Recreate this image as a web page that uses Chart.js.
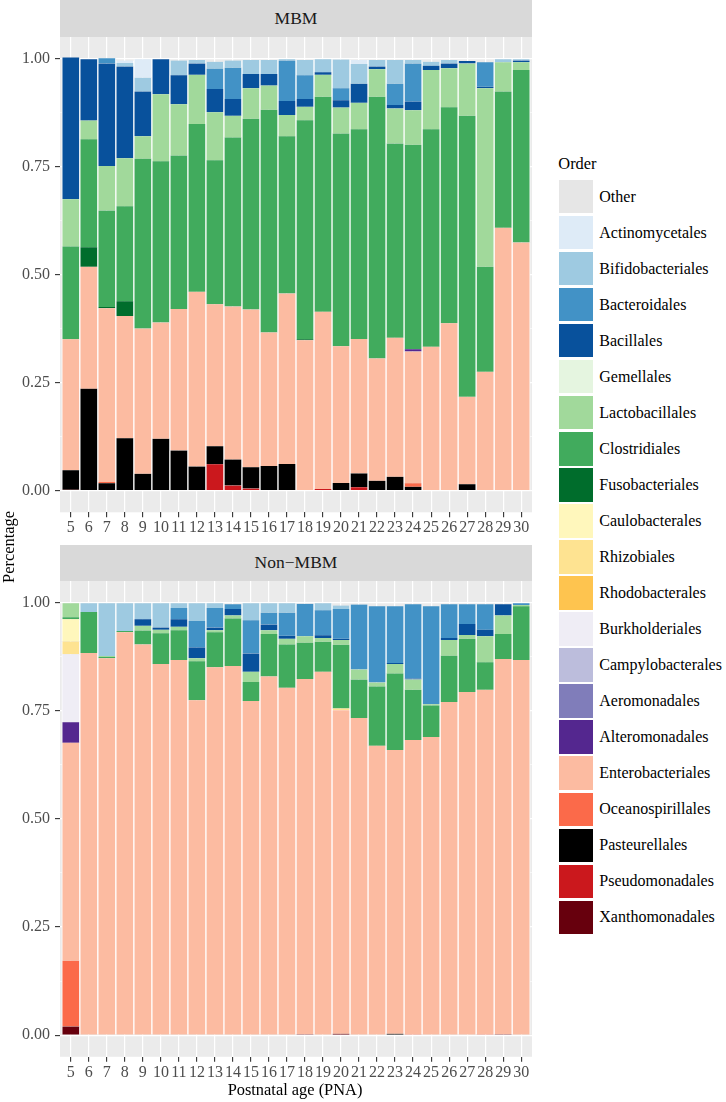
<!DOCTYPE html>
<html><head><meta charset="utf-8">
<script src="https://cdn.jsdelivr.net/npm/chart.js@4.4.1/dist/chart.umd.min.js"></script>
<style>
html,body{margin:0;padding:0;background:#fff;}
body{width:726px;height:1102px;position:relative;overflow:hidden;font-family:'Liberation Serif','Times New Roman',serif;color:#000;}
canvas{position:absolute;left:0;}
.strip{position:absolute;left:60px;width:472px;background:#D9D9D9;color:#1A1A1A;font-size:17.5px;display:flex;align-items:center;justify-content:center;}
.key{position:absolute;left:559.3px;width:33.4px;height:33.3px;}
.lab{position:absolute;left:599.3px;height:33.3px;display:flex;align-items:center;font-size:16px;white-space:nowrap;}
.ttl{position:absolute;font-size:16.4px;line-height:20px;white-space:nowrap;}
</style></head><body>
<canvas id="c1" style="top:0" width="540" height="540"></canvas>
<canvas id="c2" style="top:540px" width="540" height="562"></canvas>
<div class="strip" style="top:0;height:36.7px">MBM</div>
<div class="strip" style="top:545px;height:35.8px">Non−MBM</div>
<div class="ttl" style="left:-91.5px;top:536.7px;width:200px;text-align:center;transform:rotate(-90deg)">Percentage</div>
<div class="ttl" style="left:95px;top:1080px;width:400px;text-align:center">Postnatal age (PNA)</div>
<div class="ttl" style="left:558.3px;top:154px">Order</div>
<div id="legend"></div>
<script>
// ---------- categories / legend ----------
const categories = [5,6,7,8,9,10,11,12,13,14,15,16,17,18,19,20,21,22,23,24,25,26,27,28,29,30];
const orders = ['Other','Actinomycetales','Bifidobacteriales','Bacteroidales','Bacillales','Gemellales',
  'Lactobacillales','Clostridiales','Fusobacteriales','Caulobacterales','Rhizobiales','Rhodobacterales',
  'Burkholderiales','Campylobacterales','Aeromonadales','Alteromonadales','Enterobacteriales',
  'Oceanospirillales','Pasteurellales','Pseudomonadales','Xanthomonadales'];
const orderColors = ['#E6E6E6','#DEEBF7','#9ECAE1','#4292C6','#08519C','#E5F5E0',
  '#A1D99B','#41AB5D','#006D2C','#FFF7BC','#FEE391','#FEC44F',
  '#EFEDF5','#BCBDDC','#807DBA','#54278F','#FCBBA1',
  '#FB6A4A','#000000','#CB181D','#67000D'];
const panelTitles = ['MBM','Non−MBM'];
const yTickLabels = ['0.00','0.25','0.50','0.75','1.00'];

// ---------- MBM panel ----------
const mbmPseudomonadales = [0.002,0,0,0,0,0,0,0,0.061,0.012,0.005,0,0,0,0.004,0,0.008,0,0,0,0,0,0,0,0,0];
const mbmPasteurellales  = [0.045,0.236,0.017,0.121,0.039,0.120,0.093,0.056,0.042,0.060,0.049,0.057,0.062,0,0,0.018,0.032,0.023,0.032,0.009,0,0,0.015,0,0,0];
const mbmOceanospirillales = [0,0,0.003,0,0,0,0,0,0,0,0,0,0,0,0,0,0,0,0,0.008,0,0,0,0,0,0];
const mbmEnterobacteriales = [0.303,0.282,0.402,0.283,0.336,0.269,0.327,0.404,0.328,0.354,0.365,0.309,0.394,0.348,0.410,0.316,0.311,0.283,0.322,0.305,0.333,0.387,0.202,0.275,0.608,0.574];
const mbmAlteromonadales = [0,0,0,0,0,0,0,0,0,0,0,0,0,0,0,0,0,0,0,0.005,0,0,0,0,0,0];
const mbmFusobacteriales = [0,0.045,0.003,0.034,0,0,0,0,0,0,0,0,0,0.002,0,0,0,0,0,0,0,0,0,0,0,0];
const mbmClostridiales = [0.215,0.250,0.223,0.220,0.393,0.373,0.355,0.388,0.333,0.391,0.441,0.515,0.364,0.507,0.497,0.492,0.485,0.605,0.449,0.473,0.503,0.500,0.650,0.243,0.315,0.399];
const mbmLactobacillales = [0.109,0.043,0.103,0.111,0.052,0.155,0.119,0.114,0.111,0.050,0.071,0.056,0.049,0.031,0.051,0.060,0.061,0.064,0.081,0.080,0.137,0.090,0.121,0.413,0.068,0.018];
const mbmBacillales = [0.328,0.142,0.237,0.212,0.103,0.081,0.067,0.026,0.054,0.039,0.033,0.027,0.032,0.018,0.006,0.017,0.044,0.006,0.008,0.020,0.010,0.011,0.006,0.003,0,0.004];
const mbmBacteroidales = [0,0,0.012,0,0,0,0,0,0.047,0.072,0,0,0.094,0.055,0,0.028,0,0,0.049,0.088,0,0,0,0.057,0,0];
const mbmBifidobacteriales = [0,0,0,0.008,0.032,0,0.034,0.008,0.016,0.017,0.032,0.032,0.003,0.035,0.030,0.066,0.046,0.015,0.055,0.008,0.009,0.008,0,0,0.007,0.003];
const mbmActinomycetales = [0,0,0,0.006,0.043,0,0,0,0,0,0,0,0,0,0,0,0.009,0,0,0,0,0,0,0,0,0];

// ---------- Non-MBM panel ----------
const nonXanthomonadales = [0.020,0,0,0,0,0,0,0,0,0,0,0,0,0.002,0,0.003,0,0,0,0,0,0,0,0,0.002,0];
const nonPasteurellales = [0,0,0,0,0,0,0,0,0,0,0,0,0,0,0,0,0,0,0.003,0,0,0,0,0,0,0];
const nonOceanospirillales = [0.152,0,0,0,0,0,0,0,0,0,0,0,0,0,0,0,0,0,0,0.002,0,0,0,0.002,0,0];
const nonEnterobacteriales = [0.504,0.883,0.871,0.931,0.903,0.858,0.867,0.774,0.850,0.853,0.772,0.829,0.803,0.821,0.840,0.748,0.733,0.669,0.656,0.680,0.689,0.770,0.793,0.796,0.867,0.867];
const nonAlteromonadales = [0.047,0,0,0,0,0,0,0,0,0,0,0,0,0,0,0,0,0,0,0,0,0,0,0,0,0];
const nonBurkholderiales = [0.157,0,0,0,0,0,0,0,0,0,0,0,0,0,0,0,0,0,0,0,0,0,0,0,0,0];
const nonRhizobiales = [0.030,0,0,0,0,0,0,0,0,0,0,0,0,0,0,0.004,0,0,0,0,0,0,0,0,0,0];
const nonCaulobacterales = [0.051,0,0,0,0,0,0,0,0,0,0,0,0,0,0,0,0,0,0,0,0,0,0,0,0,0];
const nonClostridiales = [0.005,0.095,0.003,0.003,0.032,0.071,0.069,0.090,0.081,0.110,0.044,0.098,0.100,0.084,0.069,0.147,0.089,0.137,0.177,0.116,0.073,0.107,0.123,0.064,0.058,0.124];
const nonLactobacillales = [0.032,0,0.002,0,0.011,0.008,0.008,0.007,0.005,0.007,0.024,0.009,0.013,0.015,0.009,0.011,0.023,0.009,0.022,0.024,0.003,0.036,0.009,0.060,0.043,0.003];
const nonBacillales = [0,0,0,0,0.015,0.005,0.017,0.025,0.006,0.015,0.042,0.013,0.007,0,0.006,0.003,0,0,0.002,0.002,0,0.005,0.025,0.015,0.026,0];
const nonBacteroidales = [0,0,0,0,0,0,0.026,0.061,0.045,0.011,0.077,0.027,0.053,0.075,0.058,0.069,0.150,0.176,0.131,0.172,0.226,0.078,0.046,0.059,0,0.004];
const nonBifidobacteriales = [0,0.020,0.122,0.064,0.037,0.056,0.011,0.041,0.011,0,0.039,0.022,0.022,0,0.016,0.008,0,0,0,0,0,0,0,0,0,0];

const mbmTable = {
  Xanthomonadales: null, Pseudomonadales: mbmPseudomonadales, Pasteurellales: mbmPasteurellales,
  Oceanospirillales: mbmOceanospirillales, Enterobacteriales: mbmEnterobacteriales,
  Alteromonadales: mbmAlteromonadales, Fusobacteriales: mbmFusobacteriales,
  Clostridiales: mbmClostridiales, Lactobacillales: mbmLactobacillales, Bacillales: mbmBacillales,
  Bacteroidales: mbmBacteroidales, Bifidobacteriales: mbmBifidobacteriales, Actinomycetales: mbmActinomycetales
};
const nonTable = {
  Xanthomonadales: nonXanthomonadales, Pasteurellales: nonPasteurellales,
  Oceanospirillales: nonOceanospirillales, Enterobacteriales: nonEnterobacteriales,
  Alteromonadales: nonAlteromonadales, Burkholderiales: nonBurkholderiales,
  Rhizobiales: nonRhizobiales, Caulobacterales: nonCaulobacterales,
  Clostridiales: nonClostridiales, Lactobacillales: nonLactobacillales, Bacillales: nonBacillales,
  Bacteroidales: nonBacteroidales, Bifidobacteriales: nonBifidobacteriales
};

// ---------- legend (HTML) ----------
const leg = document.getElementById('legend');
orders.forEach((name, i) => {
  const top = 180 + 36.03 * i;
  const k = document.createElement('div'); k.className = 'key';
  k.style.top = top + 'px'; k.style.background = orderColors[i]; leg.appendChild(k);
  const t = document.createElement('div'); t.className = 'lab';
  t.style.top = top + 'px'; t.textContent = name; leg.appendChild(t);
});

// ---------- charts ----------
Chart.defaults.font.family = "'Liberation Serif','Times New Roman',serif";
const panelBg = {
  id: 'panelBg',
  beforeDraw(chart) {
    const {ctx, chartArea: a} = chart;
    ctx.save(); ctx.fillStyle = '#EBEBEB';
    ctx.fillRect(a.left, a.top, a.right - a.left, a.bottom - a.top); ctx.restore();
  }
};
function isMajor(v) { return Math.abs(v * 4 - Math.round(v * 4)) < 1e-6; }

function makeChart(id, table, padTop, xHeight) {
  const datasets = [];
  orders.slice().reverse().forEach(name => {
    const arr = table[name];
    if (!arr) return;
    const ci = orders.indexOf(name);
    datasets.push({
      label: name, data: arr, stack: 's',
      backgroundColor: orderColors[ci],
      borderColor: '#FFFFFF', borderWidth: {left: 1, right: 1, top: 0, bottom: 0}, borderSkipped: false,
      barPercentage: 1, categoryPercentage: 1
    });
  });
  const tickFont = {size: 16, family: "'Liberation Serif','Times New Roman',serif", lineHeight: 1.2};
  return new Chart(document.getElementById(id), {
    type: 'bar',
    data: {labels: categories, datasets},
    options: {
      responsive: false, animation: false, devicePixelRatio: 1,
      layout: {padding: {top: padTop, right: 8, left: 0, bottom: 0}},
      plugins: {legend: {display: false}, tooltip: {enabled: false}},
      scales: {
        x: {
          type: 'linear', min: 4.4, max: 30.6, offset: false,
          afterFit: s => { s.height = xHeight; },
          border: {display: false},
          grid: {offset: false, color: '#FFFFFF', lineWidth: 1.2, tickColor: '#333333', tickWidth: 1.1, tickLength: 5},
          ticks: {stepSize: 1, includeBounds: false, autoSkip: false, maxRotation: 0, minRotation: 0,
            padding: 1, color: '#4D4D4D', font: tickFont,
            callback: v => { const i = categories.indexOf(Math.round(v)); return i >= 0 ? String(categories[i]) : ''; }}
        },
        y: {
          stacked: true, min: -0.05, max: 1.05, beginAtZero: false,
          afterFit: s => { s.width = 60; },
          border: {display: false},
          grid: {color: '#FFFFFF',
            lineWidth: c => isMajor(c.tick.value) ? 1.2 : 0.6,
            tickColor: c => isMajor(c.tick.value) ? '#333333' : 'rgba(0,0,0,0)',
            tickWidth: 1.1, tickLength: 5},
          ticks: {stepSize: 0.125, includeBounds: false, padding: 5, color: '#4D4D4D', font: tickFont,
            callback: v => isMajor(v) ? yTickLabels[Math.round(v * 4)] : ''}
        }
      }
    },
    plugins: [panelBg]
  });
}
makeChart('c1', mbmTable, 36.7, 27.7);
makeChart('c2', nonTable, 40.8, 45.2);
</script>
</body></html>
